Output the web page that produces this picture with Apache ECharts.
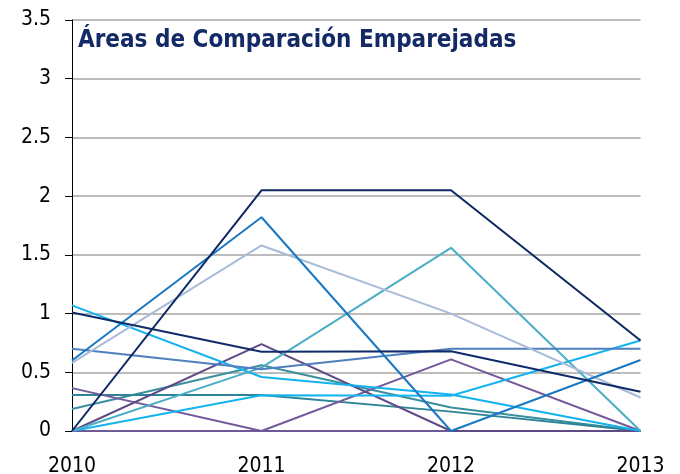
<!DOCTYPE html>
<html>
<head>
<meta charset="utf-8">
<script src="https://cdn.jsdelivr.net/npm/echarts@6/dist/echarts.min.js"></script>
<style>
html,body{margin:0;padding:0;background:#fff;}
#chart{width:680px;height:474px;}
</style>
</head>
<body>
<div id="chart"></div>
<script>
const titleText = 'Áreas de Comparación Emparejadas';
const years = ['2010', '2011', '2012', '2013'];
const yTicks = [0, 0.5, 1, 1.5, 2, 2.5, 3, 3.5];

const navyA = [0, 2.05, 2.05, 0.77];
const navyB = [1.01, 0.675, 0.68, 0.335];
const blue = [0.6, 1.82, 0, 0.605];
const steel = [0.58, 1.58, 1.0, 0.285];
const tealLight = [0, 0.54, 1.56, 0];
const skyA = [1.07, 0.46, 0.31, 0];
const skyB = [0, 0.305, 0.30, 0.77];
const midBlue = [0.70, 0.525, 0.70, 0.70];
const purpleA = [0, 0.74, 0, 0];
const purpleB = [0.365, 0, 0.61, 0];
const purpleC = [0, 0, 0, 0];
const tealFlat = [0.307, 0.307, 0.165, 0];
const tealDark = [0.187, 0.56, 0.20, 0];

const seriesDefs = [
  [purpleC, '#6e5a96'],
  [tealDark, '#3a8f9e'],
  [tealFlat, '#2e8496'],
  [purpleB, '#73599b'],
  [purpleA, '#5f4a86'],
  [skyB, '#14b4ee'],
  [skyA, '#12b2ef'],
  [tealLight, '#4cadc7'],
  [midBlue, '#4f7fbf'],
  [steel, '#a9bbd9'],
  [blue, '#1a78c2'],
  [navyB, '#0f2b6a'],
  [navyA, '#0d2763']
];

const chart = echarts.init(document.getElementById('chart'), null, {renderer: 'canvas'});
const font = '"DejaVu Sans Condensed", "Liberation Sans", sans-serif';
chart.setOption({
  animation: false,
  backgroundColor: '#ffffff',
  title: {
    text: titleText,
    left: 73,
    top: 24,
    textStyle: {fontFamily: font, fontWeight: 'bold', fontSize: 24, color: '#142a66'}
  },
  grid: {left: 72, right: 39.5, top: 20, bottom: 43, containLabel: false, outerBoundsMode: 'none'},
  xAxis: {
    type: 'category',
    data: years,
    boundaryGap: false,
    axisLine: {show: true, lineStyle: {color: '#a0a0a0', width: 1}},
    axisTick: {show: false},
    axisLabel: {fontFamily: font, fontSize: 21, color: '#000', margin: 25},
    splitLine: {show: false}
  },
  yAxis: {
    type: 'value',
    min: 0,
    max: 3.5,
    interval: 0.5,
    axisLine: {show: true, lineStyle: {color: '#000', width: 1}},
    axisTick: {show: true, length: 7, lineStyle: {color: '#000'}},
    axisLabel: {fontFamily: font, fontSize: 21, color: '#000', margin: 21,
      formatter: v => String(v)},
    splitLine: {show: true, lineStyle: {color: '#a6a6a6', width: 1.5}}
  },
  series: seriesDefs.map(([d, c]) => ({
    type: 'line',
    data: d,
    symbol: 'none',
    lineStyle: {color: c, width: 2},
    itemStyle: {color: c}
  }))
});
</script>
</body>
</html>
